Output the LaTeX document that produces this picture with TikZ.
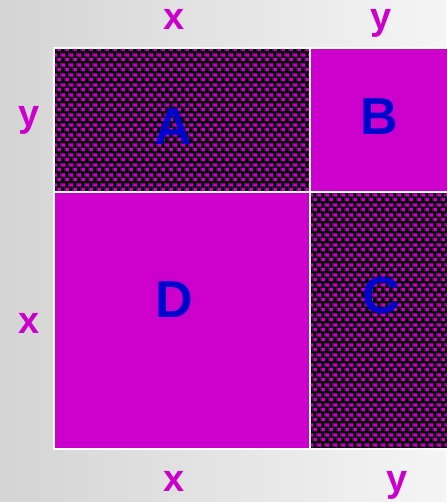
\documentclass[tikz,border=0pt]{standalone}
\usepackage{fontspec}
\setmainfont{Liberation Sans}
\usetikzlibrary{patterns}
\definecolor{mag}{HTML}{CC00CC}
\definecolor{dmag}{HTML}{7A007A}
\definecolor{lblue}{HTML}{0000CC}
\pgfdeclarepatterninherentlycolored{weave}{\pgfpointorigin}{\pgfpoint{8pt}{10pt}}{\pgfpoint{8pt}{10pt}}{%
  \pgfsetfillcolor{dmag}%
  \pgfpathrectangle{\pgfpoint{0.5pt}{1pt}}{\pgfpoint{1.5pt}{4pt}}\pgfusepath{fill}%
  \pgfpathrectangle{\pgfpoint{4.5pt}{6pt}}{\pgfpoint{1.5pt}{4pt}}\pgfusepath{fill}%
  \pgfsetfillcolor{mag}%
  \pgfpathrectangle{\pgfpoint{2pt}{1pt}}{\pgfpoint{3.5pt}{3.5pt}}\pgfusepath{fill}%
  \pgfpathrectangle{\pgfpoint{6pt}{6pt}}{\pgfpoint{2pt}{3.5pt}}\pgfusepath{fill}%
  \pgfpathrectangle{\pgfpoint{0pt}{6pt}}{\pgfpoint{1.5pt}{3.5pt}}\pgfusepath{fill}%
}
\tikzset{
  bigletter/.style={text=lblue, font=\bfseries\fontsize{52}{52}\selectfont, inner sep=0pt},
  axislabel/.style={text=mag, font=\bfseries\fontsize{38}{38}\selectfont, inner sep=0pt},
  solidbox/.style={fill=mag, draw=white, line width=2pt},
  patbox/.style={fill=black, postaction={pattern=weave}, draw=white, line width=2pt}
}
\begin{document}
\begin{tikzpicture}[x=1pt,y=-1pt]
  \useasboundingbox (0,0) rectangle (446,502);
  \shade[left color={rgb,255:red,212;green,212;blue,212}, right color={rgb,255:red,245;green,245;blue,245}] (0,0) rectangle (446,502);
  % squares
  \path[patbox] (54,48) rectangle (310,192);
  \path[solidbox] (310,48) rectangle (448,192);
  \path[solidbox] (54,192) rectangle (310,449);
  \path[patbox] (310,192) rectangle (448,449);
  \draw[white, line width=2pt] (54,48) rectangle (310,192) (310,192) rectangle (448,449);
  % letters
  \node[bigletter] (A) at (173,127) {A};
  \node[bigletter] (B) at (379,117) {B};
  \node[bigletter] (C) at (381,296) {C};
  \node[bigletter] (D) at (174,300) {D};
  % axis labels
  \node[axislabel, anchor=base] (tx) at (174,30) {x};
  \node[axislabel, anchor=base] (ty) at (381,30) {y};
  \node[axislabel, anchor=base] (ly) at (29,127) {y};
  \node[axislabel, anchor=base] (lx) at (29,333) {x};
  \node[axislabel, anchor=base] (bx) at (174,491) {x};
  \node[axislabel, anchor=base] (by) at (397,491) {y};
\end{tikzpicture}
\end{document}
